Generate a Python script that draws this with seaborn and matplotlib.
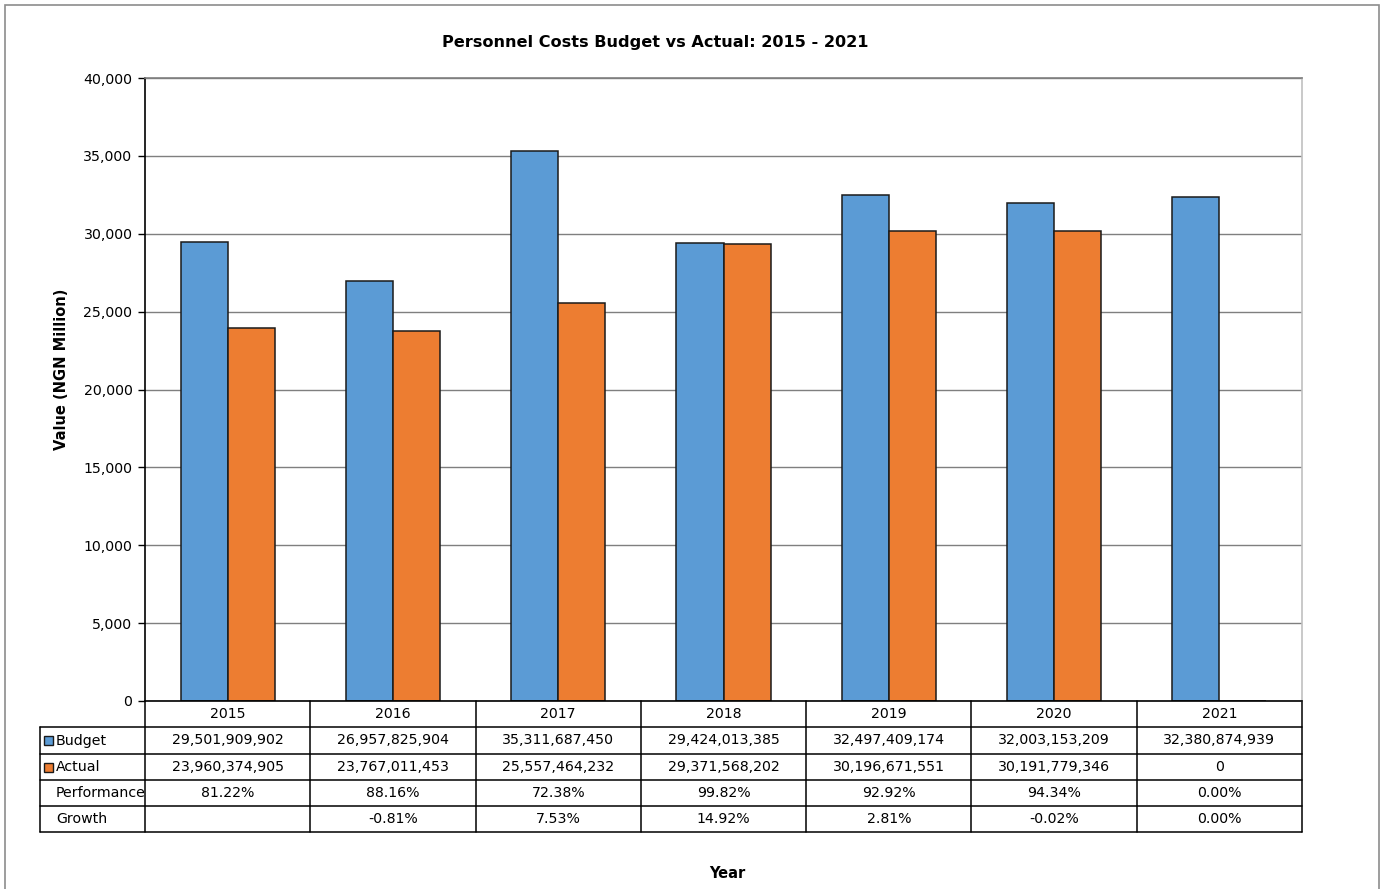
import matplotlib
matplotlib.use("Agg")
import matplotlib.pyplot as plt
import matplotlib.transforms as mtransforms
from matplotlib.patches import Rectangle
import seaborn as sns
import pandas as pd

years = ["2015", "2016", "2017", "2018", "2019", "2020", "2021"]
budget = [29501909902, 26957825904, 35311687450, 29424013385, 32497409174, 32003153209, 32380874939]
actual = [23960374905, 23767011453, 25557464232, 29371568202, 30196671551, 30191779346, 0]
performance = ["81.22%", "88.16%", "72.38%", "99.82%", "92.92%", "94.34%", "0.00%"]
growth = ["", "-0.81%", "7.53%", "14.92%", "2.81%", "-0.02%", "0.00%"]
series_names = ["Budget", "Actual"]
colors = ["#5B9BD5", "#ED7D31"]
yticks = [0, 5000, 10000, 15000, 20000, 25000, 30000, 35000, 40000]

sns.set_style("white")
plt.rcParams["font.family"] = ["DejaVu Sans"]
plt.rcParams["text.color"] = "black"
plt.rcParams["axes.labelcolor"] = "black"
plt.rcParams["ytick.color"] = "black"
plt.rcParams["xtick.color"] = "black"

FS = 10.2

df = pd.DataFrame({
    "Year": years * 2,
    "Value": [v / 1e6 for v in budget] + [v / 1e6 for v in actual],
    "Series": [series_names[0]] * len(years) + [series_names[1]] * len(years),
})

W, H = 1382, 889
fig = plt.figure(figsize=(W / 100, H / 100), dpi=100)
left, right, top, bottom = 145, 1302, 78, 701
ax = fig.add_axes([left / W, 1 - bottom / H, (right - left) / W, (bottom - top) / H])

sns.barplot(data=df, x="Year", y="Value", hue="Series", palette=colors,
            width=0.57, edgecolor="#1a1a1a", linewidth=1.1, ax=ax,
            legend=False, errorbar=None, saturation=1)

ax.set_xlim(-0.5, len(years) - 0.5)
ax.set_ylim(0, 40000)
ax.set_yticks(yticks)
ax.set_yticklabels([f"{t:,}" for t in yticks], fontsize=FS)
ax.set_xticks([])
ax.set_xlabel("")
ax.set_ylabel("Value (NGN Million)", fontsize=10.5, fontweight="bold", va="center")
ax.yaxis.set_label_coords((62 - left) / (right - left), (bottom - 369) / (bottom - top))
ax.yaxis.grid(True, color="#7f7f7f", linewidth=1)
ax.set_axisbelow(True)
ax.tick_params(axis="y", direction="out", length=5, width=1, color="black", pad=4, left=True)
for s, c in [("left", "black"), ("bottom", "black"), ("top", "#7f7f7f"), ("right", "#c0c0c0")]:
    ax.spines[s].set_color(c)
    ax.spines[s].set_linewidth(1.2)

# data table below the axes (x in category units, y in axes fraction)
trans = mtransforms.blended_transform_factory(ax.transData, ax.transAxes)
ph = bottom - top
row_px = [26, 27, 26, 26, 26]
edges = [0]
for r in row_px:
    edges.append(edges[-1] + r)
ys = [-e / ph for e in edges]
unit = (right - left) / len(years)
lab_x0 = -0.5 - 105 / unit
n = len(years)
lkw = dict(color="black", lw=1.1, transform=trans, clip_on=False)
for i, y in enumerate(ys):
    if i == 0:
        continue
    ax.plot([lab_x0, n - 0.5], [y, y], **lkw)
for k in range(n + 1):
    ax.plot([k - 0.5, k - 0.5], [ys[0], ys[-1]], **lkw)
ax.plot([lab_x0, lab_x0], [ys[1], ys[-1]], **lkw)

rows = [
    [f"{v:,}" for v in budget],
    [f"{v:,}" for v in actual],
    performance,
    growth,
]
row_labels = series_names + ["Performance", "Growth"]
for j, yr in enumerate(years):
    ax.text(j, (ys[0] + ys[1]) / 2, yr, ha="center", va="center", fontsize=FS, transform=trans)
for r, vals in enumerate(rows):
    yc = (ys[r + 1] + ys[r + 2]) / 2
    for j, v in enumerate(vals):
        ax.text(j, yc, v, ha="center", va="center", fontsize=FS, transform=trans)
    ax.text(lab_x0 + 16 / unit, yc, row_labels[r], ha="left", va="center", fontsize=FS, transform=trans)
    if r < 2:
        sq_w = 9 / unit
        sq_h = 9 / ph
        ax.add_patch(Rectangle((lab_x0 + 4 / unit, yc - sq_h / 2), sq_w, sq_h,
                               facecolor=colors[r], edgecolor="#1a1a1a", lw=1,
                               transform=trans, clip_on=False))

fig.text(655 / W, 1 - 42 / H, "Personnel Costs Budget vs Actual: 2015 - 2021",
         ha="center", va="center", fontsize=11.6, fontweight="bold")
fig.text(727 / W, 1 - 873 / H, "Year", ha="center", va="center", fontsize=10.5, fontweight="bold")

fig.patches.append(Rectangle((5 / W, -0.02), 1374 / W, 1 - 5 / H + 0.02, transform=fig.transFigure,
                             fill=False, edgecolor="#8c8c8c", lw=1.2))

fig.savefig("out.png", dpi=100, facecolor="white")
